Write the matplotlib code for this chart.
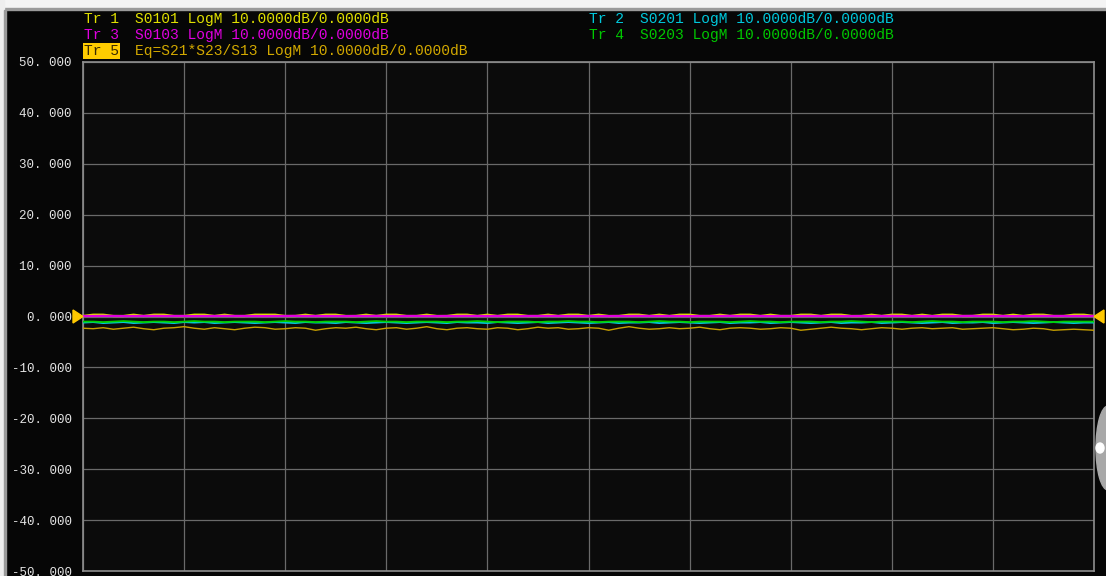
import numpy as np
import matplotlib
matplotlib.use("Agg")
import matplotlib.pyplot as plt
from matplotlib.patches import Polygon, Ellipse, Rectangle

# ---------------- data ----------------
y_ticks = [50, 40, 30, 20, 10, 0, -10, -20, -30, -40, -50]
y_tick_labels = ["50. 000", "40. 000", "30. 000", "20. 000", "10. 000", "0. 000",
                 "-10. 000", "-20. 000", "-30. 000", "-40. 000", "-50. 000"]

tr1_s0101 = [0.1, 0.35, 0.35, 0.1, 0.1, 0.35, 0.1, 0.35, 0.35, 0.1, 0.1, 0.35, 0.35, 0.1, 0.35, 0.1,
             0.1, 0.35, 0.35, 0.35, 0.1, 0.1, 0.35, 0.1, 0.35, 0.35, 0.1, 0.1, 0.35, 0.1, 0.35, 0.35,
             0.1, 0.1, 0.35, 0.1, 0.1, 0.35, 0.35, 0.1, 0.35, 0.1, 0.35, 0.35, 0.1, 0.1, 0.35, 0.1,
             0.35, 0.35, 0.1, 0.35, 0.1, 0.1, 0.35, 0.35, 0.1, 0.35, 0.1, 0.35, 0.35, 0.1, 0.1, 0.35,
             0.1, 0.35, 0.35, 0.1, 0.35, 0.1, 0.1, 0.35, 0.35, 0.1, 0.35, 0.35, 0.1, 0.1, 0.35, 0.1,
             0.35, 0.35, 0.1, 0.35, 0.1, 0.35, 0.35, 0.1, 0.1, 0.35, 0.35, 0.1, 0.35, 0.1, 0.35, 0.35,
             0.1, 0.1, 0.35, 0.35, 0.1]
tr3_s0103 = [0.1, 0.1, 0.12, 0.1, 0.08, 0.1, 0.1, 0.12, 0.1, 0.1, 0.1, 0.08, 0.1, 0.1, 0.12, 0.1,
             0.1, 0.1, 0.08, 0.1, 0.1, 0.12, 0.1, 0.1, 0.1, 0.1, 0.08, 0.1, 0.1, 0.12, 0.1, 0.1,
             0.1, 0.1, 0.1, 0.08, 0.1, 0.1, 0.12, 0.1, 0.1, 0.1, 0.1, 0.08, 0.1, 0.1, 0.12, 0.1,
             0.1, 0.1, 0.1, 0.1, 0.08, 0.1, 0.1, 0.12, 0.1, 0.1, 0.1, 0.1, 0.08, 0.1, 0.1, 0.1,
             0.12, 0.1, 0.1, 0.1, 0.08, 0.1, 0.1, 0.1, 0.12, 0.1, 0.1, 0.1, 0.08, 0.1, 0.1, 0.1,
             0.12, 0.1, 0.1, 0.1, 0.08, 0.1, 0.1, 0.1, 0.12, 0.1, 0.1, 0.1, 0.08, 0.1, 0.1, 0.12,
             0.1, 0.1, 0.1, 0.1, 0.1]
tr2_s0201 = [-1.2, -1.1, -1.3, -1.2, -1.1, -1.3, -1.2, -1.1, -1.2, -1.3, -1.1, -1.2, -1.1, -1.3, -1.2, -1.1,
             -1.2, -1.3, -1.2, -1.1, -1.2, -1.3, -1.1, -1.2, -1.2, -1.3, -1.1, -1.2, -1.3, -1.2, -1.1, -1.2,
             -1.3, -1.2, -1.1, -1.2, -1.3, -1.1, -1.2, -1.2, -1.3, -1.1, -1.2, -1.3, -1.2, -1.1, -1.3, -1.2,
             -1.1, -1.2, -1.3, -1.2, -1.1, -1.3, -1.2, -1.2, -1.1, -1.3, -1.2, -1.1, -1.2, -1.3, -1.2, -1.1,
             -1.3, -1.2, -1.2, -1.1, -1.3, -1.2, -1.1, -1.2, -1.3, -1.2, -1.1, -1.3, -1.2, -1.2, -1.1, -1.3,
             -1.2, -1.1, -1.2, -1.3, -1.2, -1.1, -1.3, -1.2, -1.2, -1.1, -1.3, -1.2, -1.1, -1.2, -1.3, -1.2,
             -1.1, -1.2, -1.3, -1.2, -1.2]
tr4_s0203 = [-1.0, -1.0, -1.1, -1.0, -0.9, -1.0, -1.1, -1.0, -1.0, -1.1, -1.0, -0.9, -1.0, -1.0, -1.1, -1.0,
             -1.0, -1.0, -1.1, -1.0, -0.9, -1.0, -1.0, -1.1, -1.0, -1.0, -1.0, -1.1, -1.0, -0.9, -1.0, -1.0,
             -1.1, -1.0, -1.0, -1.0, -1.1, -1.0, -1.0, -0.9, -1.0, -1.1, -1.0, -1.0, -1.0, -1.1, -1.0, -1.0,
             -0.9, -1.0, -1.0, -1.1, -1.0, -1.0, -1.0, -1.1, -1.0, -0.9, -1.0, -1.0, -1.1, -1.0, -1.0, -1.0,
             -1.1, -1.0, -0.9, -1.0, -1.0, -1.1, -1.0, -1.0, -1.0, -1.1, -1.0, -1.0, -0.9, -1.0, -1.1, -1.0,
             -1.0, -1.0, -1.1, -1.0, -0.9, -1.0, -1.0, -1.1, -1.0, -1.0, -1.0, -1.1, -1.0, -1.0, -0.9, -1.0,
             -1.1, -1.0, -1.0, -1.0, -1.0]
tr5_eq = [-2.3, -2.4, -2.2, -2.5, -2.3, -2.1, -2.4, -2.6, -2.3, -2.2, -2.0, -2.3, -2.5, -2.2, -2.4, -2.6,
          -2.3, -2.1, -2.2, -2.5, -2.4, -2.2, -2.3, -2.7, -2.4, -2.2, -2.3, -2.1, -2.4, -2.6, -2.3, -2.2,
          -2.5, -2.3, -2.0, -2.4, -2.6, -2.3, -2.2, -2.4, -2.5, -2.2, -2.3, -2.6, -2.4, -2.1, -2.3, -2.2,
          -2.5, -2.4, -2.2, -2.3, -2.7, -2.3, -2.0, -2.3, -2.5, -2.4, -2.2, -2.4, -2.3, -2.1, -2.4, -2.6,
          -2.3, -2.2, -2.3, -2.5, -2.4, -2.2, -2.3, -2.7, -2.5, -2.3, -2.1, -2.3, -2.4, -2.6, -2.4, -2.2,
          -2.3, -2.5, -2.3, -2.2, -2.4, -2.3, -2.2, -2.5, -2.4, -2.3, -2.2, -2.4, -2.6, -2.5, -2.3, -2.4,
          -2.7, -2.6, -2.5, -2.6, -2.7]

header_left = [("Tr 1", "S0101 LogM 10.0000dB/0.0000dB", "#e0e000"),
               ("Tr 3", "S0103 LogM 10.0000dB/0.0000dB", "#e000e0"),
               ("Tr 5", "Eq=S21*S23/S13 LogM 10.0000dB/0.0000dB", "#d2a800")]
header_right = [("Tr 2", "S0201 LogM 10.0000dB/0.0000dB", "#00c8dc"),
                ("Tr 4", "S0203 LogM 10.0000dB/0.0000dB", "#00c800")]

# ---------------- figure ----------------
W, H = 1106, 576
fig = plt.figure(figsize=(W / 100, H / 100), dpi=100, facecolor="#060606")
FONT = "Liberation Mono"

def fx(px):
    return px / W

def fy(py):
    return 1 - py / H

# light outer frame like the screenshot
fig.patches.append(Rectangle((0, fy(8)), 1, 8 / H, transform=fig.transFigure,
                             color="#f4f4f4", zorder=0))
fig.patches.append(Rectangle((0, fy(9.5)), 1, 1.5 / H, transform=fig.transFigure,
                             color="#9a9a9a", zorder=0))
fig.patches.append(Rectangle((0, 0), 4 / W, 1, transform=fig.transFigure,
                             color="#eeeeee", zorder=0))
fig.patches.append(Rectangle((4 / W, 0), 1.5 / W, fy(9.5), transform=fig.transFigure,
                             color="#9a9a9a", zorder=0))

L, R, T, B = 83, 1094, 62, 571
ax = fig.add_axes([fx(L), fy(B), fx(R - L), (B - T) / H])
ax.set_facecolor("#0b0b0b")
ax.set_xlim(0, 1)
ax.set_ylim(-50, 50)
ax.set_xticks(np.linspace(0, 1, 11))
ax.set_xticklabels([])
ax.set_yticks(y_ticks)
ax.set_yticklabels(y_tick_labels, family=FONT, fontsize=9.0, color="#e4e4e4")
ax.tick_params(axis="both", length=0, pad=8)
ax.tick_params(axis="x", pad=0)
ax.grid(True, color="#6a6a6a", linewidth=0.9)
for s in ax.spines.values():
    s.set_color("#8e8e8e")
    s.set_linewidth(1.2)

def xs(vals):
    return np.linspace(0, 1, len(vals))

ax.plot(xs(tr5_eq), tr5_eq, color="#c8a000", lw=1.0, zorder=3)
ax.plot(xs(tr2_s0201), tr2_s0201, color="#00c8dc", lw=1.3, zorder=3)
ax.plot(xs(tr4_s0203), tr4_s0203, color="#00d000", lw=1.3, zorder=4)
ax.plot(xs(tr1_s0101), tr1_s0101, color="#e0e000", lw=1.6, zorder=3)
ax.plot(xs(tr3_s0103), tr3_s0103, color="#e000e0", lw=1.6, zorder=4)

# reference position markers
fig.patches.append(Polygon([[fx(73), fy(310)], [fx(73), fy(323)], [fx(83), fy(316.5)]],
                           closed=True, transform=fig.transFigure, color="#ffc800", zorder=5))
fig.patches.append(Polygon([[fx(1104), fy(310)], [fx(1104), fy(323)], [fx(1094), fy(316.5)]],
                           closed=True, transform=fig.transFigure, color="#ffc800", zorder=5))

# side knob
fig.patches.append(Ellipse((fx(1108), fy(448)), 24 / W, 84 / H, transform=fig.transFigure,
                           color="#a8a8a8", zorder=5))
fig.patches.append(Ellipse((fx(1100), fy(448)), 8 / W, 10 / H, transform=fig.transFigure,
                           color="#ffffff", zorder=6))

# header texts
FS = 10.5
rows_y = [19, 35, 51]
for (tag, desc, col), yy in zip(header_left, rows_y):
    if tag == "Tr 5":
        fig.text(fx(84), fy(yy), tag, family=FONT, fontsize=FS, color="#3a2a00",
                 va="center", ha="left",
                 bbox=dict(boxstyle="square,pad=0.1", fc="#ffcc00", ec="none"))
    else:
        fig.text(fx(84), fy(yy), tag, family=FONT, fontsize=FS, color=col, va="center", ha="left")
    fig.text(fx(135), fy(yy), desc, family=FONT, fontsize=FS, color=col, va="center", ha="left")

for (tag, desc, col), yy in zip(header_right, rows_y[:2]):
    fig.text(fx(589), fy(yy), tag, family=FONT, fontsize=FS, color=col, va="center", ha="left")
    fig.text(fx(640), fy(yy), desc, family=FONT, fontsize=FS, color=col, va="center", ha="left")

fig.savefig("out.png", dpi=100, facecolor=fig.get_facecolor())
